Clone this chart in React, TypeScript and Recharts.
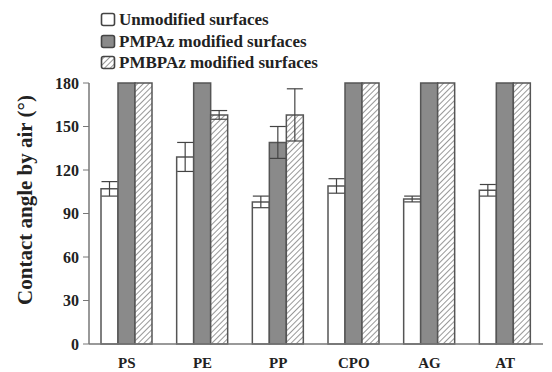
import { Bar, BarChart, ErrorBar, XAxis, YAxis } from "recharts";

const surfaces = ["PS", "PE", "PP", "CPO", "AG", "AT"];
const unmodified = [107, 129, 98, 109, 100, 106];
const unmodifiedErr = [5, 10, 4, 5, 2, 4];
const pmpaz = [180, 180, 139, 180, 180, 180];
const pmpazErr = [0, 0, 11, 0, 0, 0];
const pmbpaz = [180, 158, 158, 180, 180, 180];
const pmbpazErr = [0, 3, 18, 0, 0, 0];
const yTicks = [0, 30, 60, 90, 120, 150, 180];

const data = surfaces.map((name, i) => ({
  name,
  unmodified: unmodified[i],
  unmodifiedErr: unmodifiedErr[i],
  pmpaz: pmpaz[i],
  pmpazErr: pmpazErr[i],
  pmbpaz: pmbpaz[i],
  pmbpazErr: pmbpazErr[i],
}));

const serif = "'Liberation Serif', 'Times New Roman', serif";
const edge = "#555";

const legendItems = [
  { label: "Unmodified surfaces", fill: "#fff" },
  { label: "PMPAz modified surfaces", fill: "#8a8a8a" },
  { label: "PMBPAz modified surfaces", fill: "url(#hatch)" },
];

function LegendBox() {
  return (
    <div
      style={{
        position: "absolute",
        left: 100,
        top: 9,
        fontFamily: serif,
        fontWeight: "bold",
        fontSize: 17,
        color: "#222",
        lineHeight: "21.5px",
        whiteSpace: "nowrap",
      }}
    >
      {legendItems.map((it) => (
        <div key={it.label} style={{ display: "flex", alignItems: "center" }}>
          <svg width={17} height={15} style={{ marginRight: 2 }}>
            <rect x={1.5} y={1.5} width={13} height={12} rx={2} fill={it.fill} stroke="#444" strokeWidth={1.6} />
          </svg>
          {it.label}
        </div>
      ))}
    </div>
  );
}

export default function App() {
  return (
    <div style={{ position: "fixed", left: 0, top: 0, width: 552, height: 372, background: "#fff" }}>
      <BarChart
        width={552}
        height={372}
        data={data}
        margin={{ top: 83, right: 9, bottom: 0, left: 0 }}
        barGap={0}
        barSize={17}
      >
        <defs>
          <pattern id="hatch" width={4} height={4} patternUnits="userSpaceOnUse" patternTransform="rotate(45)">
            <rect width={4} height={4} fill="#fff" />
            <line x1={0} y1={0} x2={0} y2={4} stroke="#858585" strokeWidth={1.7} />
          </pattern>
        </defs>
        <XAxis
          dataKey="name"
          height={28}
          tickLine={false}
          axisLine={{ stroke: "#777", strokeWidth: 1.5 }}
          tick={{ fontFamily: serif, fontWeight: "bold", fontSize: 15, fill: "#222" }}
          tickMargin={7}
          interval={0}
        />
        <YAxis
          width={89}
          domain={[0, 180]}
          ticks={yTicks}
          interval={0}
          axisLine={{ stroke: "#777", strokeWidth: 1.5 }}
          tickLine={{ stroke: "#777" }}
          tickSize={6}
          tickMargin={4}
          tick={{ fontFamily: serif, fontWeight: "bold", fontSize: 16, fill: "#222" }}
          label={{
            content: () => (
              <text
                x={25}
                y={200}
                transform="rotate(-90 25 200)"
                textAnchor="middle"
                dominantBaseline="central"
                fontFamily={serif}
                fontWeight="bold"
                fontSize={21}
                fill="#222"
              >
                Contact angle by air (°)
              </text>
            ),
          }}
        />
        <Bar dataKey="unmodified" fill="#fff" stroke={edge} strokeWidth={1.5} isAnimationActive={false}>
          <ErrorBar dataKey="unmodifiedErr" width={8} stroke="#444" strokeWidth={1.2} />
        </Bar>
        <Bar dataKey="pmpaz" fill="#8a8a8a" stroke={edge} strokeWidth={1.5} isAnimationActive={false}>
          <ErrorBar dataKey="pmpazErr" width={8} stroke="#444" strokeWidth={1.2} />
        </Bar>
        <Bar dataKey="pmbpaz" fill="url(#hatch)" stroke={edge} strokeWidth={1.5} isAnimationActive={false}>
          <ErrorBar dataKey="pmbpazErr" width={8} stroke="#444" strokeWidth={1.2} />
        </Bar>
      </BarChart>
      <LegendBox />
    </div>
  );
}
